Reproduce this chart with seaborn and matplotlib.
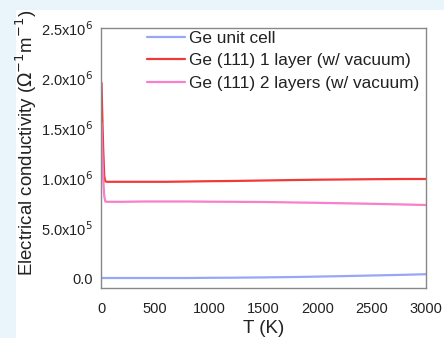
import matplotlib
matplotlib.use("Agg")
import matplotlib.pyplot as plt
import seaborn as sns
import pandas as pd
from matplotlib.patches import Rectangle

T = [5, 10, 20, 30, 40, 60, 100, 200, 400, 600, 800, 1000, 1200, 1500, 1800, 2000, 2200, 2500, 2800, 3000]
unit_cell = [0.0, 0.0, 0.0, 0.0, 0.0, 0.0, 0.0, 0.0, 0.0, 0.0, 0.0, 0.002e6, 0.003e6, 0.006e6, 0.010e6, 0.014e6, 0.018e6, 0.025e6, 0.032e6, 0.038e6]
one_layer = [1.95e6, 1.70e6, 1.30e6, 1.02e6, 0.965e6, 0.962e6, 0.962e6, 0.962e6, 0.962e6, 0.962e6, 0.965e6, 0.968e6, 0.970e6, 0.975e6, 0.980e6, 0.983e6, 0.985e6, 0.988e6, 0.990e6, 0.990e6]
two_layers = [1.55e6, 1.30e6, 1.00e6, 0.82e6, 0.765e6, 0.762e6, 0.762e6, 0.762e6, 0.765e6, 0.765e6, 0.765e6, 0.763e6, 0.762e6, 0.760e6, 0.755e6, 0.752e6, 0.748e6, 0.742e6, 0.735e6, 0.730e6]
labels = ["Ge unit cell", "Ge (111) 1 layer (w/ vacuum)", "Ge (111) 2 layers (w/ vacuum)"]
colors = ["#98A6F7", "#F03A3A", "#F77FCB"]

sns.set_theme(style="white")
plt.rcParams['font.family'] = ['Liberation Sans', 'DejaVu Sans']

fig = plt.figure(figsize=(4.44, 3.38), dpi=100)
fig.patch.set_facecolor("#EAF4FB")
fig.patches.append(Rectangle((16/444, 0), 1 - 16/444, 1 - 10/338, transform=fig.transFigure,
                             facecolor="white", edgecolor="none", zorder=-1))
ax = fig.add_axes([101/444, 1 - 288/338, (426 - 101)/444, (288 - 28)/338])

for vals, lab, c in zip([unit_cell, one_layer, two_layers], labels, colors):
    df = pd.DataFrame({"T": T, "sigma": vals})
    sns.lineplot(data=df, x="T", y="sigma", ax=ax, color=c, lw=1.6, label=lab)

ax.set_xlim(0, 3000)
ax.set_ylim(-0.1e6, 2.5e6)
ax.set_xticks([0, 500, 1000, 1500, 2000, 2500, 3000])
ax.set_yticks([0, 0.5e6, 1.0e6, 1.5e6, 2.0e6, 2.5e6])
ax.set_yticklabels(["0.0", r"5.0x10$^5$", r"1.0x10$^6$", r"1.5x10$^6$", r"2.0x10$^6$", r"2.5x10$^6$"])
ax.tick_params(axis='y', labelsize=10.5, length=0, pad=6, colors="#222222")
ax.tick_params(axis='x', labelsize=10.5, length=0, pad=10, colors="#222222")
ax.set_xlabel("T (K)", fontsize=13.5, labelpad=3, color="#222222")
ax.set_ylabel(r"Electrical conductivity ($\Omega^{-1}$m$^{-1}$)", fontsize=13.4, color="#222222")
ax.yaxis.set_label_coords(-0.19, 0.558)
for s in ax.spines.values():
    s.set_color("#888888")
    s.set_linewidth(1.0)

leg = ax.legend(loc="upper right", frameon=False, fontsize=12.4, handlelength=2.25,
                handletextpad=0.2, labelspacing=0.42, borderaxespad=0.0,
                bbox_to_anchor=(1.0, 1.015))
for t in leg.get_texts():
    t.set_color("#222222")

fig.savefig("out.png", dpi=100, facecolor=fig.get_facecolor())
